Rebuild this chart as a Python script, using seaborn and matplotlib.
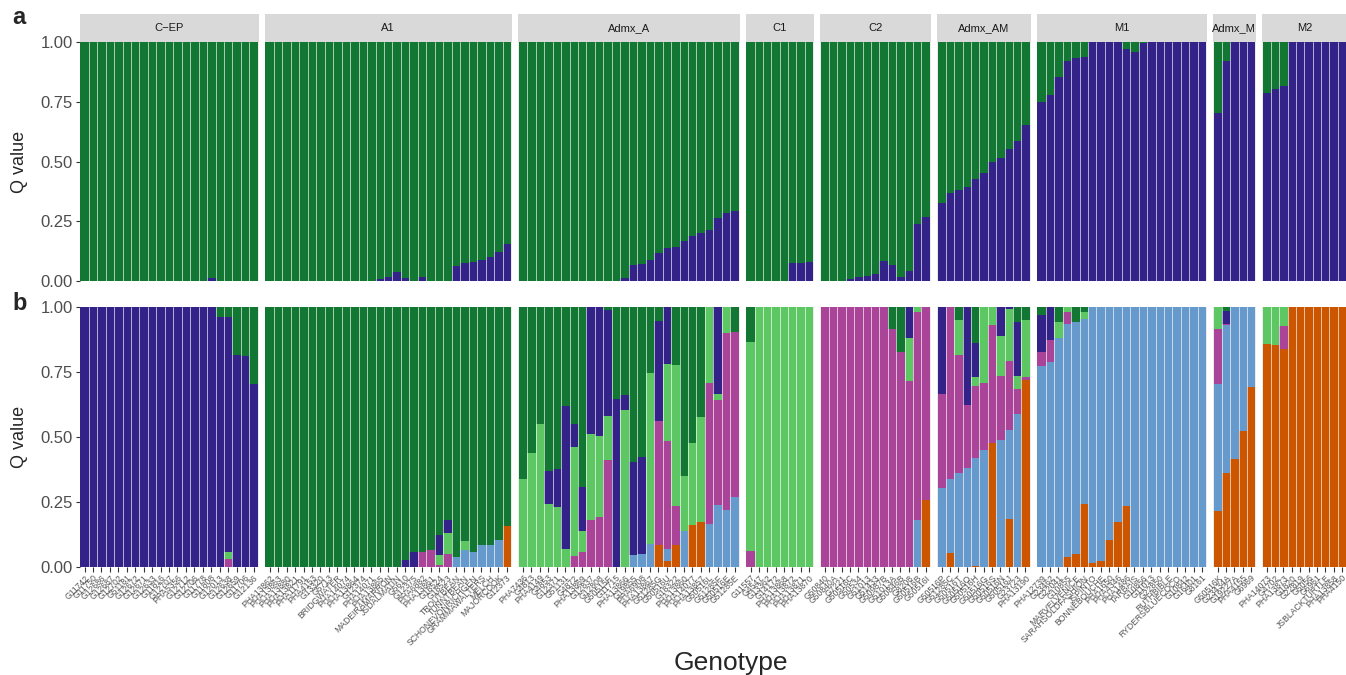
import numpy as np
import pandas as pd
import matplotlib
matplotlib.use("Agg")
import matplotlib.pyplot as plt
import seaborn as sns

sns.set_theme(style="white")
plt.rcParams['font.family'] = ['Liberation Sans', 'DejaVu Sans']

# ---------------- data ----------------
GROUPS = ["C\u2212EP", "A1", "Admx_A", "C1", "C2", "Admx_AM", "M1", "Admx_M", "M2"]

GENOTYPES = {
    "C\u2212EP": ["G11742", "G11750", "G12686", "G12687", "G12702", "G51181", "G12672", "G12671",
                  "G12633", "G11816", "G12707", "PHA5356", "G12712", "G12706", "G11778", "G11808",
                  "G12013", "G12638", "G12659", "G11706", "G12136"],
    "A1": ["PHA13862", "PHA13863", "PHA13880", "PHA13821", "PHA11791", "PHA4153", "G13320", "G5713",
           "BRIDGWATER", "PHA14074", "PHA13864", "G12374", "PHA14071", "PHA13865", "MADEIRAMARRON",
           "JSDALMATIN", "G5610", "G12375", "PHA6882", "PHA13861", "G18524", "G18523", "TROUTBEAN",
           "TUNNTBEAN", "SCHONEVONRICHGEN", "GRAMMAWALTERS", "MELCH", "MAJORCOOK", "G12373"],
    "Admx_A": ["PHA7436", "G4813", "PHA4149", "G4853", "G12371", "G51131", "G4872", "PHA13869",
               "G12837", "G12808", "G50515F", "G11715", "PHA13866", "G19855", "PHA6908", "PHA13867",
               "G51285G", "G50516U", "G18322", "PHA13860", "PHA14077", "PHA13857", "G50516L",
               "G51285F", "G50516E", "G51285E"],
    "C1": ["G11557", "G4547", "G13362", "G14172", "PHA13868", "PHA13872", "PHA13871", "PHA13870"],
    "C2": ["G50840", "G50840A", "G7221", "G50516C", "G50534", "G51013", "G51433", "G50987B",
           "G51013A", "G50846B", "G8208", "G50516B", "G50516I"],
    "Admx_AM": ["G50516P", "G51285C", "G50516T", "G50516O", "G50516H", "G50516G", "G50516S",
                "G50516N", "G50516J", "G23723", "PHA13190"],
    "M1": ["PHA12739", "G23462", "G22041", "G10855", "MARVELVENICE", "SARAHSOLDFASHION", "JSPINTO",
           "BONNEBOUCHE", "PHA1650", "PHA4346", "PHA1486", "TARBAIS", "G10856", "G11013", "G22850",
           "RUTHBIBLE", "RYDERSBLUECOCO", "G10842", "G16401", "G8161"],
    "Admx_M": ["G50516K", "G23434A", "G19227A", "PHA4155", "G6969"],
    "M2": ["PHA14073", "G4702", "PHA13873", "G1820", "G22819", "G5056", "G6961", "JSBLACKTURTLE",
           "PHA13858", "PHA4150"],
}

# panel a (K=2): indigo share; green share
A_INDIGO = {
    "C\u2212EP": [0]*15 + [0.014] + [0]*5,
    "A1": [0]*13 + [0.008, 0.017, 0.038, 0.014, 0, 0.017, 0, 0, 0, 0.063, 0.075, 0.08, 0.088, 0.10, 0.121, 0.155],
    "Admx_A": [0]*12 + [0.014, 0.067, 0.071, 0.088, 0.117, 0.138, 0.142, 0.167, 0.188, 0.20, 0.213, 0.264, 0.285, 0.293],
    "C1": [0, 0, 0, 0, 0, 0.075, 0.075, 0.08],
    "C2": [0, 0, 0, 0.008, 0.017, 0.021, 0.029, 0.084, 0.067, 0.017, 0.042, 0.238, 0.268],
    "Admx_AM": [0.326, 0.368, 0.381, 0.393, 0.427, 0.452, 0.498, 0.515, 0.552, 0.586, 0.653],
    "M1": [0.749, 0.778, 0.854, 0.921, 0.933, 0.937, 1, 1, 1, 1, 0.971, 0.958, 0.996, 1, 1, 1, 1, 1, 1, 1],
    "Admx_M": [0.703, 0.921, 1, 1, 1],
    "M2": [0.787, 0.803, 0.816, 1, 1, 1, 1, 1, 1, 1],
}
A_GREEN = {
    "C\u2212EP": [1]*15 + [0.986] + [1]*5,
    "A1": [1]*13 + [0.992, 0.983, 0.962, 0.986, 1, 0.983, 1, 1, 1, 0.937, 0.925, 0.92, 0.912, 0.90, 0.879, 0.845],
    "Admx_A": [1]*12 + [0.986, 0.933, 0.929, 0.912, 0.883, 0.862, 0.858, 0.833, 0.812, 0.80, 0.787, 0.736, 0.715, 0.707],
    "C1": [1, 1, 1, 1, 1, 0.925, 0.925, 0.92],
    "C2": [1, 1, 1, 0.992, 0.983, 0.979, 0.971, 0.916, 0.933, 0.983, 0.958, 0.762, 0.732],
    "Admx_AM": [0.674, 0.632, 0.619, 0.607, 0.573, 0.548, 0.502, 0.485, 0.448, 0.414, 0.347],
    "M1": [0.251, 0.222, 0.146, 0.079, 0.067, 0.063, 0, 0, 0, 0, 0.029, 0.042, 0.004, 0, 0, 0, 0, 0, 0, 0],
    "Admx_M": [0.297, 0.079, 0, 0, 0],
    "M2": [0.213, 0.197, 0.184, 0, 0, 0, 0, 0, 0, 0],
}

# panel b (K=6), listed bottom-to-top: orange, blue, purple, light green, indigo, green
B_ORANGE = {
    "C\u2212EP": [0]*21,
    "A1": [0]*28 + [0.158],
    "Admx_A": [0]*16 + [0.085, 0.023, 0.085, 0, 0.162, 0.173, 0, 0, 0, 0],
    "C1": [0]*8,
    "C2": [0]*12 + [0.258],
    "Admx_AM": [0, 0.054, 0, 0, 0.004, 0, 0.477, 0, 0.185, 0, 0.719],
    "M1": [0, 0, 0, 0.038, 0.05, 0.242, 0.015, 0.023, 0.104, 0.173, 0.235] + [0]*9,
    "Admx_M": [0.215, 0.362, 0.415, 0.523, 0.692],
    "M2": [0.858, 0.854, 0.838, 1, 1, 1, 1, 1, 1, 1],
}
B_BLUE = {
    "C\u2212EP": [0]*21,
    "A1": [0]*22 + [0.037, 0.065, 0.059, 0.083, 0.083, 0.104, 0],
    "Admx_A": [0]*13 + [0.046, 0.05, 0.088, 0, 0.046, 0, 0.138, 0, 0, 0.165, 0.238, 0.219, 0.269],
    "C1": [0]*8,
    "C2": [0]*11 + [0.181, 0],
    "Admx_AM": [0.304, 0.285, 0.362, 0.381, 0.415, 0.45, 0, 0.488, 0.342, 0.588, 0],
    "M1": [0.773, 0.788, 0.881, 0.896, 0.892, 0.712, 0.985, 0.977, 0.896, 0.827, 0.765] + [1]*9,
    "Admx_M": [0.488, 0.569, 0.585, 0.477, 0.308],
    "M2": [0]*10,
}
B_PURPLE = {
    "C\u2212EP": [0]*17 + [0.03, 0, 0, 0],
    "A1": [0]*18 + [0.058, 0.065, 0.008, 0.05] + [0]*7,
    "Admx_A": [0]*6 + [0.042, 0.058, 0.181, 0.192, 0.412, 0, 0, 0, 0, 0, 0.477, 0.415, 0.15, 0, 0, 0,
                       0.542, 0.404, 0.681, 0.635],
    "C1": [0.062] + [0]*7,
    "C2": [1]*8 + [0.915, 0.827, 0.715, 0.80, 0.742],
    "Admx_AM": [0.362, 0.661, 0.454, 0.242, 0.277, 0.258, 0.454, 0.246, 0.265, 0.096, 0.012],
    "M1": [0.054, 0.085, 0, 0.046] + [0]*16,
    "Admx_M": [0.212, 0.004, 0, 0, 0],
    "M2": [0, 0, 0.088] + [0]*7,
}
B_LGREEN = {
    "C\u2212EP": [0]*17 + [0.026, 0, 0, 0],
    "A1": [0]*20 + [0.038, 0.081, 0, 0.035] + [0]*5,
    "Admx_A": [0.337, 0.437, 0.549, 0.242, 0.231, 0.069, 0.419, 0.081, 0.331, 0.312, 0.169, 0, 0.604, 0, 0,
               0.658, 0, 0.296, 0.542, 0.212, 0.315, 0.404, 0.293, 0.023, 0.10, 0],
    "C1": [0.803] + [1]*7,
    "C2": [0]*10 + [0.165, 0.019, 0],
    "Admx_AM": [0, 0, 0.135, 0, 0.035, 0.292, 0.069, 0.154, 0.20, 0.05, 0.219],
    "M1": [0, 0, 0.062, 0.02, 0, 0.027] + [0]*14,
    "Admx_M": [0.085, 0, 0, 0, 0],
    "M2": [0.142, 0.146, 0.074] + [0]*7,
}
B_INDIGO = {
    "C\u2212EP": [1]*16 + [0.96, 0.904, 0.815, 0.81, 0.704],
    "A1": [0]*16 + [0.027, 0.058, 0, 0, 0.077, 0.05] + [0]*7,
    "Admx_A": [0, 0, 0, 0.127, 0.146, 0.55, 0.088, 0.169, 0.488, 0.496, 0.408, 0.646, 0.058, 0.358, 0.373,
               0, 0.385, 0.22, 0, 0, 0, 0, 0, 0.335, 0, 0],
    "C1": [0]*8,
    "C2": [0]*10 + [0.12, 0, 0],
    "Admx_AM": [0.334, 0, 0, 0.377, 0.131, 0, 0, 0.112, 0.008, 0.208, 0],
    "M1": [0.142, 0.127] + [0]*18,
    "Admx_M": [0, 0.05, 0, 0, 0],
    "M2": [0]*10,
}
B_GREEN = {
    "C\u2212EP": [0]*16 + [0.04, 0.04, 0.185, 0.19, 0.296],
    "A1": [1]*16 + [0.973, 0.942, 0.942, 0.935, 0.877, 0.819, 0.963, 0.90, 0.941, 0.917, 0.917, 0.896, 0.842],
    "Admx_A": [0.663, 0.563, 0.451, 0.631, 0.623, 0.381, 0.451, 0.692, 0, 0, 0.011, 0.354, 0.338, 0.596,
               0.577, 0.254, 0.053, 0, 0.223, 0.65, 0.523, 0.423, 0, 0, 0, 0.096],
    "C1": [0.135] + [0]*7,
    "C2": [0]*8 + [0.085, 0.173, 0, 0, 0],
    "Admx_AM": [0, 0, 0.049, 0, 0.138, 0, 0, 0, 0, 0.058, 0.05],
    "M1": [0.031, 0, 0.057, 0, 0.058, 0.019] + [0]*14,
    "Admx_M": [0, 0.015, 0, 0, 0],
    "M2": [0]*10,
}

C_INDIGO = "#332288"
C_GREEN = "#117733"
C_LGREEN = "#5DC863"
C_PURPLE = "#AA4499"
C_BLUE = "#6699CC"
C_ORANGE = "#CC5500"

# ---------------- layout ----------------
W, H = 1346, 675
fig = plt.figure(figsize=(W / 100, H / 100), dpi=100)
fig.patch.set_facecolor("white")

x0, x1, gap = 79.5, 1347.0, 6.0
ntot = sum(len(GENOTYPES[g]) for g in GROUPS)
bw = (x1 - x0 - gap * (len(GROUPS) - 1)) / ntot

A_TOP, A_BOT = 42, 281
S_TOP = 14
B_TOP, B_BOT = 307, 567


def stacked(ax, names, layers):
    """layers: list of (values, color) bottom-to-top; draw cumulative from top down."""
    cum = np.cumsum(np.array([v for v, _ in layers], dtype=float), axis=0)
    for k in range(len(layers) - 1, -1, -1):
        df = pd.DataFrame({"Genotype": names, "Q": cum[k]})
        sns.barplot(data=df, x="Genotype", y="Q", order=names, color=layers[k][1],
                    saturation=1, width=1, linewidth=0, errorbar=None, ax=ax)


def style(ax, n, first, show_x):
    ax.set_xlim(-0.6, n - 0.4)
    ax.set_ylim(0, 1)
    ax.set_facecolor("#EBEBEB")
    for s in ax.spines.values():
        s.set_visible(False)
    for i in range(1, n):
        ax.axvline(i - 0.5, color="white", lw=0.45, zorder=5)
    ax.set_xlabel("")
    ax.set_ylabel("")
    ax.set_yticks([0, 0.25, 0.5, 0.75, 1.0])
    if first:
        ax.set_yticklabels(["0.00", "0.25", "0.50", "0.75", "1.00"], fontsize=12, color="#4D4D4D")
        ax.tick_params(axis="y", length=3, width=0.8, color="#333333", pad=2, left=True)
    else:
        ax.set_yticklabels([])
        ax.tick_params(axis="y", length=0)
    if show_x:
        ax.tick_params(axis="x", length=3.5, width=0.8, color="#333333", pad=1, bottom=True)
        plt.setp(ax.get_xticklabels(), rotation=45, ha="right", rotation_mode="anchor",
                 fontsize=6.2, color="#555555")
    else:
        ax.set_xticks([])


left = x0
for gi, g in enumerate(GROUPS):
    names = GENOTYPES[g]
    n = len(names)
    wpx = n * bw
    # strip
    sax = fig.add_axes([left / W, 1 - A_TOP / H, wpx / W, (A_TOP - S_TOP) / H])
    sax.set_facecolor("#D9D9D9")
    sax.set_xticks([]); sax.set_yticks([])
    for s in sax.spines.values():
        s.set_visible(False)
    sax.text(0.5, 0.5, g, ha="center", va="center", fontsize=8, color="#1A1A1A", transform=sax.transAxes)

    axa = fig.add_axes([left / W, 1 - A_BOT / H, wpx / W, (A_BOT - A_TOP) / H])
    stacked(axa, names, [(A_INDIGO[g], C_INDIGO), (A_GREEN[g], C_GREEN)])
    style(axa, n, gi == 0, False)

    axb = fig.add_axes([left / W, 1 - B_BOT / H, wpx / W, (B_BOT - B_TOP) / H])
    stacked(axb, names, [(B_ORANGE[g], C_ORANGE), (B_BLUE[g], C_BLUE), (B_PURPLE[g], C_PURPLE),
                         (B_LGREEN[g], C_LGREEN), (B_INDIGO[g], C_INDIGO), (B_GREEN[g], C_GREEN)])
    style(axb, n, gi == 0, True)

    left += wpx + gap

fig.text(20 / W, 1 - (A_TOP + A_BOT) / 2 / H, "Q value", rotation=90, ha="center", va="center", fontsize=13)
fig.text(20 / W, 1 - (B_TOP + B_BOT) / 2 / H, "Q value", rotation=90, ha="center", va="center", fontsize=13)
fig.text(731 / W, 1 - 663 / H, "Genotype", ha="center", va="center", fontsize=19)
fig.text(12 / W, 1 - 18 / H, "a", ha="left", va="center", fontsize=17, fontweight="bold")
fig.text(12 / W, 1 - 303 / H, "b", ha="left", va="center", fontsize=17, fontweight="bold")

fig.savefig("out.png", dpi=100, facecolor="white")
